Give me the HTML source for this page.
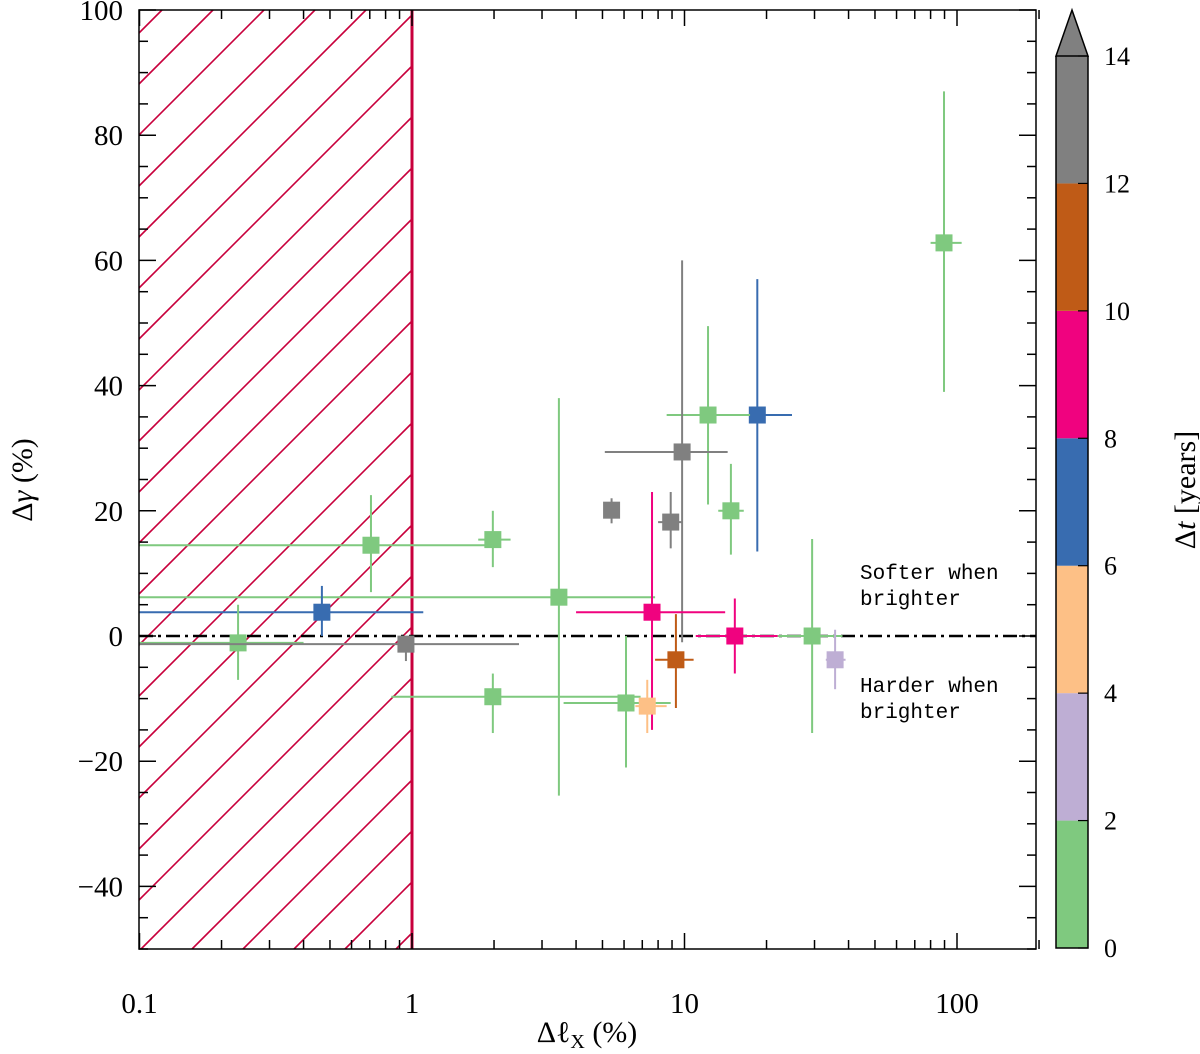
<!DOCTYPE html>
<html><head><meta charset="utf-8"><style>
html,body{margin:0;padding:0;background:#fff;overflow:hidden;width:1200px;height:1054px;}
svg{display:block;overflow:hidden;}
svg text{font-family:"Liberation Serif",serif;fill:#000;}
svg text.mono{font-family:"Liberation Mono",monospace;}
</style></head><body>
<svg width="1200" height="1054" viewBox="0 0 1200 1054" xmlns="http://www.w3.org/2000/svg">
<g id="hatch"></g>
<line x1="412" y1="10" x2="412" y2="949" stroke="#c8003c" stroke-width="3"/>
<line x1="139" y1="636" x2="1036" y2="636" stroke="#000" stroke-width="2.5" stroke-dasharray="14,5,3,5"/>
<g id="points"></g>
<rect x="139" y="10" width="897" height="939" fill="none" stroke="#000" stroke-width="1.5"/>
<g id="ticks"></g>
<text class="mono" x="860" y="579" font-size="21">Softer when</text>
<text class="mono" x="860" y="605" font-size="21">brighter</text>
<text class="mono" x="860" y="692" font-size="21">Harder when</text>
<text class="mono" x="860" y="718" font-size="21">brighter</text>
<text x="587" y="1042" font-size="30" text-anchor="middle">Δℓ<tspan font-size="20" dy="6">X</tspan><tspan dy="-6"> (%)</tspan></text>
<text transform="translate(32,480) rotate(-90)" font-size="30" text-anchor="middle">Δ<tspan font-style="italic">γ</tspan> (%)</text>
<g id="cbar"></g>
<text transform="translate(1195,490) rotate(-90)" font-size="30" text-anchor="middle">Δ<tspan font-style="italic">t</tspan> [years]</text>
</svg>
<script>
const xs=[89.6,18.5,12.2,9.8,5.4,8.9,14.8,1.98,0.707,3.46,0.467,7.6,0.23,0.95,15.3,29.4,35.7,9.3,1.98,6.1,7.3];
const ys=[62.8,35.3,35.3,29.4,20.1,18.2,20,15.4,14.5,6.2,3.8,3.8,-1.1,-1.3,0,0,-3.8,-3.8,-9.7,-10.7,-11.2];
const xlo=[80,12.7,8.6,5.1,5.2,8.0,13.3,1.75,0.1,0.1,0.1,4.0,0.1,0.1,11,22,33,7.8,0.84,3.6,6.6];
const xhi=[104,24.8,17.4,14.4,5.7,9.8,16.5,2.3,2.0,7.8,1.1,14.1,0.4,2.47,22,38,39,10.8,6.9,8.9,8.6];
const ylo=[39,13.5,21,-1,18,14,13,11,7,-25.5,0,-15,-7,-4,-6,-15.5,-8.5,-11.5,-15.5,-21,-15.5];
const yhi=[87,57,49.5,60,22,23,27.5,20,22.5,38,8,23,5,0,6,15.5,1,3.5,-6,0,-7];
const dts=[1,7,1,13,13,13,1,1,1,1,7,9,1,13,9,1,3,11,1,1,5];
const cbColors=["#7fc97f","#beaed4","#fdc086","#386cb0","#f0027f","#bf5b17","#808080"];
const cbTicks=[0,2,4,6,8,10,12,14];
const xTickLabels=["0.1","1","10","100"];
const yTickLabels=[-40,-20,0,20,40,60,80,100];
const NS="http://www.w3.org/2000/svg";
const X=v=>139.5+(Math.log10(v)+1)*272.5;
const Y=v=>636-v*6.26;
const CY=v=>948-v*(892/14);
function mk(t,a,p){const e=document.createElementNS(NS,t);for(const k in a)e.setAttribute(k,a[k]);p.appendChild(e);return e;}
const hatch=document.getElementById('hatch');
for(let k=-2;k<40;k++){const y0=33+51*k;
 const xa=Math.max(139,139+y0-949), xb=Math.min(412,139+y0-10);
 if(xa>=xb) continue;
 const l=mk('line',{x1:xa,y1:y0-(xa-139),x2:xb,y2:y0-(xb-139),stroke:'#c8003c','stroke-width':1.6},hatch);
 
 }
const pts=document.getElementById('points');
function col(d){return cbColors[Math.min(6,Math.floor(d/2))];}
for(let i=0;i<xs.length;i++){const c=col(dts[i]);const g=mk('g',{},pts);
 
 
 mk('line',{x1:X(xlo[i]),x2:X(xhi[i]),y1:Y(ys[i]),y2:Y(ys[i]),stroke:c,'stroke-width':2},g);
 mk('line',{x1:X(xs[i]),x2:X(xs[i]),y1:Y(ylo[i]),y2:Y(yhi[i]),stroke:c,'stroke-width':2},g);
 mk('rect',{x:X(xs[i])-8.5,y:Y(ys[i])-8.5,width:17,height:17,fill:c},g);}
const tk=document.getElementById('ticks');
for(let d=-1;d<3;d++)for(let m=1;m<10;m++){const v=m*Math.pow(10,d);if(v>200)continue;const px=X(v);
 const L=m==1?16:9;
 mk('line',{x1:px,x2:px,y1:949,y2:949-L,stroke:'#000','stroke-width':1.5},tk);
 mk('line',{x1:px,x2:px,y1:10,y2:10+L,stroke:'#000','stroke-width':1.5},tk);}
xTickLabels.forEach(s=>{const t=mk('text',{x:X(parseFloat(s)),y:1013,'font-size':29,'text-anchor':'middle'},tk);t.textContent=s;
 
 });
for(let v=-50;v<=100;v+=5){const py=Y(v);const L=v%20==0?17:9;
 mk('line',{x1:139,x2:139+L,y1:py,y2:py,stroke:'#000','stroke-width':1.5},tk);
 mk('line',{x1:1036,x2:1036-L,y1:py,y2:py,stroke:'#000','stroke-width':1.5},tk);}
yTickLabels.forEach(v=>{const t=mk('text',{x:123,y:Y(v)+10,'font-size':29,'text-anchor':'end'},tk);t.textContent=(v<0?'\u2212'+(-v):v);
 
 });
const cb=document.getElementById('cbar');
cbColors.forEach((c,i)=>{const r=mk('rect',{x:1056,y:CY(2*i+2),width:32,height:CY(2*i)-CY(2*i+2),fill:c},cb);
 
 });
mk('polygon',{points:`1056,${CY(14)} 1072,10 1088,${CY(14)}`,fill:'#808080',stroke:'#000','stroke-width':1.5},cb);
mk('polyline',{points:`1056,${CY(14)} 1056,948 1088,948 1088,${CY(14)}`,fill:'none',stroke:'#000','stroke-width':1.5},cb);
cbTicks.forEach(v=>{mk('line',{x1:1078,x2:1088,y1:CY(v),y2:CY(v),stroke:'#000','stroke-width':1.2},cb);
 const t=mk('text',{x:1104,y:CY(v)+9,'font-size':26},cb);t.textContent=v;
 
 });
</script>
</body></html>
